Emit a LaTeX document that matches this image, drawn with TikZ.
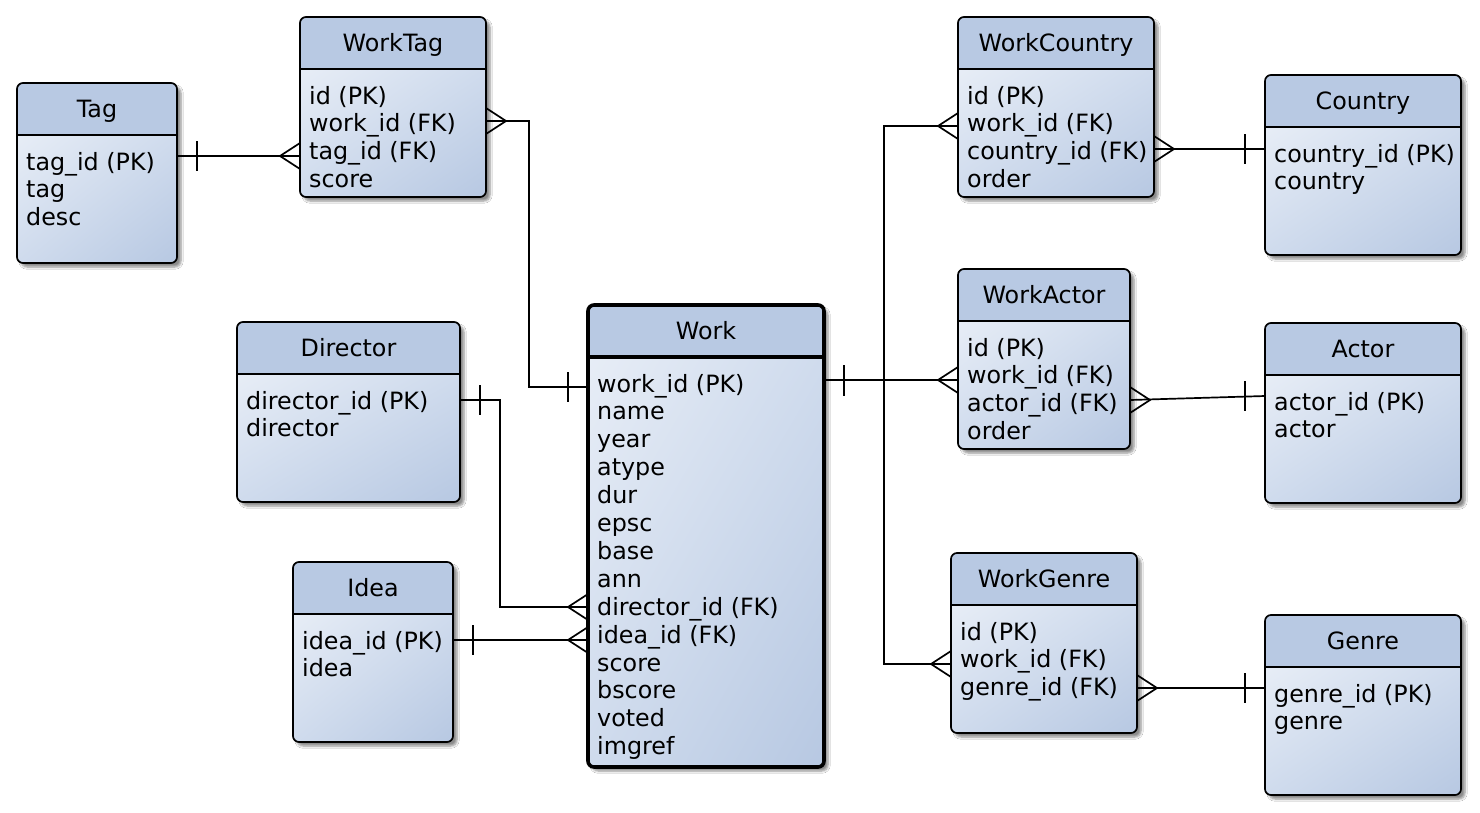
\documentclass[tikz,border=0pt]{standalone}
\usepackage{fontspec}
\setmainfont{DejaVu Sans}
\usetikzlibrary{shadows.blur,calc,shadings}
\definecolor{hdr}{HTML}{B8C9E3}
\definecolor{bodyA}{HTML}{E7EDF6}
\definecolor{bodyB}{HTML}{B7C8E2}
\definecolor{bodyM}{HTML}{CFDBED}
\tikzset{
  conn/.style={line width=1.7pt, black, line join=miter},
  many/.pic={\draw[conn] (0,-13) -- (-20,0) -- (0,13);},
  one/.pic={\draw[conn] (-20,-15) -- (-20,15);},
  rowtext/.style={anchor=base west, inner sep=0pt, font=\fontsize{23.8}{28}\selectfont},
  titletext/.style={anchor=base, inner sep=0pt, font=\fontsize{23.8}{28}\selectfont},
}
\newcommand{\entity}[8][1.7pt]{%
  \fill[white, rounded corners=6pt, blur shadow={shadow xshift=4pt, shadow yshift=-4pt, shadow blur steps=6, shadow opacity=45}] ({#3},{#4}) rectangle ({#5},{#6});
  \begin{scope}
    \clip[rounded corners=6pt] ({#3},{#4}) rectangle ({#5},{#6});
    \shade[upper left=bodyA, lower right=bodyB, upper right=bodyM, lower left=bodyM] ({#3},{#4+52}) rectangle ({#5},{#6});
    \fill[hdr] ({#3},{#4}) rectangle ({#5},{#4+52});
  \end{scope}
  \draw[line width=#1, rounded corners=6pt] ({#3},{#4}) rectangle ({#5},{#6});
  \draw[line width=#1] ({#3},{#4+52}) -- ({#5},{#4+52});
  \node[inner sep=0pt, outer sep=0pt, minimum width=#5-#3, minimum height=#6-#4, anchor=north west] (#2) at ({#3},{#4}) {};
  \node[titletext] (#2-title) at ({(#3+#5)/2},{#4+34}) {#7};
  \foreach \t [count=\i from 0] in {#8}
    \node[rowtext] (#2-r\i) at ({#3+9},{#4+87+27.9*\i}) {\t};
}
\begin{document}
\begin{tikzpicture}[x=1pt,y=-1pt]
\fill[white] (0,0) rectangle (1480,812);
\useasboundingbox (0,0) rectangle (1480,812);

\entity{Tag}{17}{83}{177}{263}{Tag}{tag\_id (PK),tag,desc}
\entity{WorkTag}{300}{17}{486}{197}{WorkTag}{id (PK),work\_id (FK),tag\_id (FK),score}
\entity{Director}{237}{322}{460}{502}{Director}{director\_id (PK),director}
\entity{Idea}{293}{562}{453}{742}{Idea}{idea\_id (PK),idea}
\entity[3.6pt]{Work}{588}{305}{824}{767}{Work}{work\_id (PK),name,year,atype,dur,epsc,base,ann,director\_id (FK),idea\_id (FK),score,bscore,voted,imgref}
\entity{WorkCountry}{958}{17}{1154}{197}{WorkCountry}{id (PK),work\_id (FK),country\_id (FK),order}
\entity{Country}{1265}{75}{1461}{255}{Country}{country\_id (PK),country}
\entity{WorkActor}{958}{269}{1130}{449}{WorkActor}{id (PK),work\_id (FK),actor\_id (FK),order}
\entity{Actor}{1265}{323}{1461}{503}{Actor}{actor\_id (PK),actor}
\entity{WorkGenre}{951}{553}{1137}{733}{WorkGenre}{id (PK),work\_id (FK),genre\_id (FK)}
\entity{Genre}{1265}{615}{1461}{795}{Genre}{genre\_id (PK),genre}

% Tag - WorkTag
\draw[conn] (Tag.east |- 0,156) -- (WorkTag.west |- 0,156);
\path (Tag.east |- 0,156) pic[xscale=-1]{one};
\path (WorkTag.west |- 0,156) pic{many};

% WorkTag - Work
\draw[conn] (WorkTag.east |- 0,121) -- (529,121) -- (529,387) -- (Work.west |- 0,387);
\path (WorkTag.east |- 0,121) pic[xscale=-1]{many};
\path (Work.west |- 0,387) pic{one};

% Director - Work
\draw[conn] (Director.east |- 0,400) -- (500,400) -- (500,607) -- (Work.west |- 0,607);
\path (Director.east |- 0,400) pic[xscale=-1]{one};
\path (Work.west |- 0,607) pic{many};

% Idea - Work
\draw[conn] (Idea.east |- 0,640) -- (Work.west |- 0,640);
\path (Idea.east |- 0,640) pic[xscale=-1]{one};
\path (Work.west |- 0,640) pic{many};

% Work - WorkActor / WorkCountry / WorkGenre
\draw[conn] (Work.east |- 0,380) -- (WorkActor.west |- 0,380);
\draw[conn] (884,380) |- (WorkCountry.west |- 0,126);
\draw[conn] (884,380) |- (WorkGenre.west |- 0,664);
\path (Work.east |- 0,380) pic[xscale=-1]{one};
\path (Work.east |- 0,381) pic[xscale=-1]{one};
\path (WorkActor.west |- 0,380) pic{many};
\path (WorkCountry.west |- 0,126) pic{many};
\path (WorkGenre.west |- 0,664) pic{many};

% WorkCountry - Country
\draw[conn] (WorkCountry.east |- 0,149) -- (Country.west |- 0,149);
\path (WorkCountry.east |- 0,149) pic[xscale=-1]{many};
\path (Country.west |- 0,149) pic{one};

% WorkActor - Actor
\draw[conn] (WorkActor.east |- 0,400) -- (Actor.west |- 0,396);
\path (WorkActor.east |- 0,400) pic[xscale=-1]{many};
\path (Actor.west |- 0,396) pic{one};

% WorkGenre - Genre
\draw[conn] (WorkGenre.east |- 0,688) -- (Genre.west |- 0,688);
\path (WorkGenre.east |- 0,688) pic[xscale=-1]{many};
\path (Genre.west |- 0,688) pic{one};
\end{tikzpicture}
\end{document}
